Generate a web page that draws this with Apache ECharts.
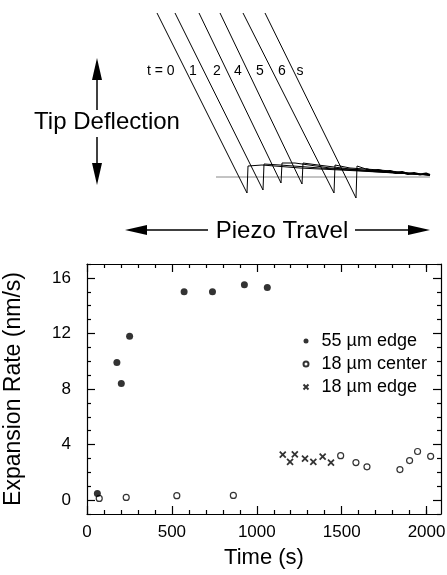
<!DOCTYPE html>
<html>
<head>
<meta charset="utf-8">
<script src="https://cdn.jsdelivr.net/npm/echarts@6/dist/echarts.min.js"></script>
<style>
  html, body { margin: 0; padding: 0; background: #fff; }
  #chart { width: 447px; height: 575px; }
</style>
</head>
<body>
<div id="chart"></div>
<script>
// expansion rate data: [time (s), rate (nm/s)]
const edge55 = [[61, 0.48], [176, 9.9], [202, 8.4], [251, 11.8], [572, 15.0], [739, 15.0], [927, 15.5], [1062, 15.3]];
const center18 = [[72, 0.12], [231, 0.19], [529, 0.32], [862, 0.34], [1494, 3.2], [1584, 2.7], [1649, 2.4],
  [1843, 2.2], [1900, 2.85], [1947, 3.5], [2024, 3.15]];
const edge18 = [[1153, 3.27], [1196, 2.75], [1224, 3.3], [1284, 2.98], [1333, 2.76], [1388, 3.13], [1437, 2.7]];

// tick values
const xMajor = [0, 500, 1000, 1500, 2000];
const xMinor = [100, 200, 300, 400, 600, 700, 800, 900, 1100, 1200, 1300, 1400, 1600, 1700, 1800, 1900, 2000];
const yMajor = [0, 4, 8, 12, 16];
const yMinor = [-1, 1, 2, 3, 5, 6, 7, 9, 10, 11, 13, 14, 15, 17];

// schematic force curves: [piezo travel, tip deflection] in picture units
const curveLabels = ['t = 0', '1', '2', '4', '5', '6', 's'];
const curve0 = [[157, 13], [247, 193], [248, 166], [262, 165], [300, 168], [360, 171], [430, 175]];
const curve1 = [[175, 13], [263, 190], [264, 164], [280, 165], [320, 168], [380, 172], [430, 175]];
const curve2 = [[199, 13], [281, 183], [282, 163], [295, 163], [330, 168], [390, 172], [430, 175]];
const curve3 = [[220, 13], [302, 184], [303, 163], [318, 165], [350, 169], [400, 173], [430, 175]];
const curve4 = [[243, 13], [334, 193], [335, 165], [350, 168], [380, 170], [410, 173], [430, 175]];
const curve5 = [[265, 13], [356, 198], [357, 166], [366, 169]];
const noisyTail = [[366, 169], [372, 171], [378, 170], [384, 171.5], [390, 171], [396, 173], [402, 172],
  [408, 174], [414, 173], [420, 174.5], [426, 173.5], [430, 175]];
const baseline = [[216, 177], [430, 177]];

const FONT = '"Liberation Sans", Arial, Helvetica, sans-serif';

function tickAxis(dim, position, ticks, len, showLine, extra) {
  const ax = {
    gridIndex: 0,
    type: 'value',
    position: position,
    min: dim === 'x' ? 0 : -1,
    max: dim === 'x' ? 2085 : 17,
    axisLine: { show: showLine, onZero: false, lineStyle: { color: '#000', width: 1.2 } },
    axisTick: { show: true, inside: true, length: len, customValues: ticks, lineStyle: { color: '#000', width: 1.2 } },
    axisLabel: { show: false },
    splitLine: { show: false }
  };
  return Object.assign(ax, extra || {});
}

function curveSeries(data, color, width) {
  return {
    type: 'line',
    xAxisIndex: 4,
    yAxisIndex: 4,
    data: data,
    showSymbol: false,
    silent: true,
    lineStyle: { color: color, width: width },
    z: 1
  };
}

function textEl(x, y, text, size, align) {
  return {
    type: 'text', x: x, y: y,
    style: { text: text, font: size + 'px ' + FONT, fill: '#000', textAlign: align || 'center', textVerticalAlign: 'middle' }
  };
}

const chart = echarts.init(document.getElementById('chart'));

chart.setOption({
  animation: false,
  backgroundColor: '#fff',
  textStyle: { fontFamily: FONT, color: '#000' },
  grid: [
    { left: 87, right: 6, top: 264, bottom: 61, containLabel: false, outerBoundsMode: 'none' },
    { left: 0, right: 0, top: 0, height: 250, containLabel: false, outerBoundsMode: 'none' }
  ],
  legend: {
    orient: 'vertical',
    left: 301,
    top: 332,
    padding: 0,
    itemWidth: 21,
    itemHeight: 5,
    itemGap: 5,
    textStyle: { fontSize: 18, lineHeight: 18, color: '#000', fontFamily: FONT },
    data: ['55 µm edge', '18 µm center', '18 µm edge']
  },
  xAxis: [
    tickAxis('x', 'bottom', xMajor, 8, true, {
      axisLabel: {
        show: true, customValues: xMajor, fontSize: 17, color: '#000', margin: 10, fontFamily: FONT,
        formatter: function (v) { return String(v); }
      },
      name: 'Time (s)',
      nameLocation: 'middle',
      nameGap: 33,
      nameTextStyle: { fontSize: 22, color: '#000', fontFamily: FONT }
    }),
    tickAxis('x', 'bottom', xMinor, 4, false),
    tickAxis('x', 'top', xMajor, 8, true),
    tickAxis('x', 'top', xMinor, 4, false),
    { gridIndex: 1, type: 'value', min: 0, max: 447, show: false }
  ],
  yAxis: [
    tickAxis('y', 'left', yMajor, 8, true, {
      axisLabel: {
        show: true, customValues: yMajor, fontSize: 17, color: '#000', margin: 16, fontFamily: FONT,
        formatter: function (v) { return String(v); }
      },
      name: 'Expansion Rate (nm/s)',
      nameLocation: 'middle',
      nameGap: 62,
      nameTextStyle: { fontSize: 23, color: '#000', fontFamily: FONT }
    }),
    tickAxis('y', 'left', yMinor, 4, false),
    tickAxis('y', 'right', yMajor, 8, true),
    tickAxis('y', 'right', yMinor, 4, false),
    { gridIndex: 1, type: 'value', min: 0, max: 250, inverse: true, show: false }
  ],
  series: [
    {
      name: '55 µm edge',
      type: 'scatter',
      data: edge55,
      symbol: 'circle',
      symbolSize: 7,
      itemStyle: { color: '#000' },
      z: 3
    },
    {
      name: '18 µm center',
      type: 'scatter',
      data: center18,
      symbol: 'circle',
      symbolSize: 6,
      itemStyle: { color: '#fff', borderColor: '#000', borderWidth: 1.2 },
      z: 2
    },
    {
      name: '18 µm edge',
      type: 'scatter',
      data: edge18,
      symbol: 'path://M0,0L10,10M10,0L0,10',
      symbolSize: 6,
      itemStyle: { color: 'none', borderColor: '#000', borderWidth: 1.8 },
      z: 2
    },
    curveSeries(baseline, '#888', 1),
    curveSeries(curve0, '#000', 1),
    curveSeries(curve1, '#000', 1),
    curveSeries(curve2, '#000', 1),
    curveSeries(curve3, '#000', 1),
    curveSeries(curve4, '#000', 1),
    curveSeries(curve5, '#000', 1),
    curveSeries(noisyTail, '#000', 2.2)
  ],
  graphic: [
    // t labels
    textEl(147, 71, curveLabels[0], 14, 'left'),
    textEl(193, 71, curveLabels[1], 14),
    textEl(217, 71, curveLabels[2], 14),
    textEl(238, 71, curveLabels[3], 14),
    textEl(260, 71, curveLabels[4], 14),
    textEl(282, 71, curveLabels[5], 14),
    textEl(300, 71, curveLabels[6], 14),
    // tip deflection arrow + text
    textEl(107, 122, 'Tip Deflection', 24),
    { type: 'line', shape: { x1: 97, y1: 76, x2: 97, y2: 110 }, style: { stroke: '#000', lineWidth: 1.5 } },
    { type: 'polygon', shape: { points: [[97, 58], [92, 80], [102, 80]] }, style: { fill: '#000' } },
    { type: 'line', shape: { x1: 97, y1: 137, x2: 97, y2: 167 }, style: { stroke: '#000', lineWidth: 1.5 } },
    { type: 'polygon', shape: { points: [[97, 185], [92, 163], [102, 163]] }, style: { fill: '#000' } },
    // piezo travel arrows + text
    textEl(282, 231, 'Piezo Travel', 24),
    { type: 'line', shape: { x1: 145, y1: 230, x2: 208, y2: 230 }, style: { stroke: '#000', lineWidth: 1.5 } },
    { type: 'polygon', shape: { points: [[125, 230], [147, 225], [147, 235]] }, style: { fill: '#000' } },
    { type: 'line', shape: { x1: 355, y1: 230, x2: 412, y2: 230 }, style: { stroke: '#000', lineWidth: 1.5 } },
    { type: 'polygon', shape: { points: [[430, 230], [408, 225], [408, 235]] }, style: { fill: '#000' } }
  ]
});
</script>
</body>
</html>
